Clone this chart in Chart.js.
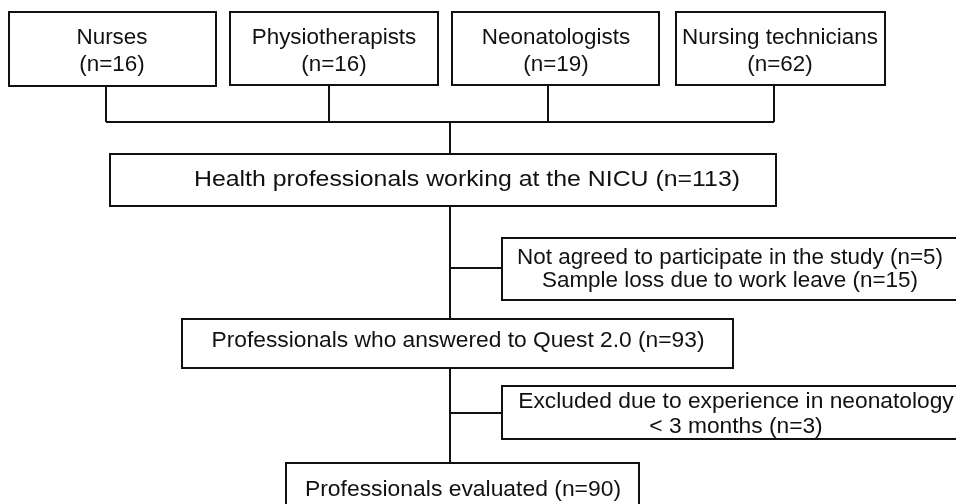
<!DOCTYPE html>
<html>
<head>
<meta charset="utf-8">
<script src="https://cdn.jsdelivr.net/npm/chart.js@4/dist/chart.umd.min.js"></script>
<style>
body{margin:0;background:#fff;}
#flowChart{display:block;}
</style>
</head>
<body>
<canvas id="flowChart" width="956" height="504"></canvas>
<script>
//box texts
var boxTexts=[
    ["Nurses","(n=16)"],
    ["Physiotherapists","(n=16)"],
    ["Neonatologists","(n=19)"],
    ["Nursing technicians","(n=62)"],
    ["Health professionals working at the NICU (n=113)"],
    ["Not agreed to participate in the study (n=5)","Sample loss due to work leave (n=15)"],
    ["Professionals who answered to Quest 2.0 (n=93)"],
    ["Excluded due to experience in neonatology","< 3 months (n=3)"],
    ["Professionals evaluated (n=90)"]
];
//counts shown in boxes
var groupNames=["Nurses","Physiotherapists","Neonatologists","Nursing technicians"];
var groupCounts=[16,16,19,62];
var totalCount=113;
var lostCounts=[5,15];
var answeredCount=93;
var excludedCount=3;
var evaluatedCount=90;

//box extents in chart units: left, top, right, bottom
var boxLeft  =[9,  230,452,676,110,502,182,502,286];
var boxTop   =[12, 12, 12, 12, 154,238,319,386,463];
var boxRight =[216,438,659,885,776,962,733,962,639];
var boxBottom=[86, 85, 85, 85, 206,300,368,439,520];
//text placement
var textX    =[112,334,556,780,467,730,458,736,463];
var textY    =[51, 51, 51, 51, 180,269,341,414,490];
var lineGap  =[27, 27, 27, 27, 0,  23, 0,  25, 0];
var stretch  =[1.02,1.02,1.02,1.02,1.13,1.02,1.035,1.035,1.04];

//connector lines
var connectors=[
    [[106,86],[106,122]],
    [[329,85],[329,122]],
    [[548,85],[548,122]],
    [[774,85],[774,122]],
    [[106,122],[774,122]],
    [[450,122],[450,154]],
    [[450,206],[450,319]],
    [[450,268],[502,268]],
    [[450,368],[450,463]],
    [[450,413],[502,413]]
];

var datasets=[];
for(var i=0;i<connectors.length;i++){
    datasets.push({
        data:connectors[i].map(function(p){return {x:p[0],y:p[1]};}),
        showLine:true,
        borderColor:"#111",
        borderWidth:2,
        pointRadius:0,
        fill:false
    });
}

var boxPlugin={
    id:"boxes",
    afterDatasetsDraw:function(chart){
        var ctx=chart.ctx;
        var xs=chart.scales.x,ys=chart.scales.y;
        ctx.save();
        for(var i=0;i<boxTexts.length;i++){
            var l=xs.getPixelForValue(boxLeft[i]);
            var r=xs.getPixelForValue(boxRight[i]);
            var t=ys.getPixelForValue(boxTop[i]);
            var b=ys.getPixelForValue(boxBottom[i]);
            ctx.fillStyle="#fff";
            ctx.fillRect(l,t,r-l,b-t);
            ctx.strokeStyle="#111";
            ctx.lineWidth=2;
            ctx.strokeRect(l,t,r-l,b-t);

            //text, slightly widened like the original
            ctx.fillStyle="#111";
            ctx.font="22px 'Liberation Sans', Arial, sans-serif";
            ctx.textAlign="center";
            ctx.textBaseline="middle";
            var lines=boxTexts[i];
            var cx=xs.getPixelForValue(textX[i]);
            var cy=ys.getPixelForValue(textY[i]);
            for(var j=0;j<lines.length;j++){
                var off=(j-(lines.length-1)/2)*lineGap[i];
                ctx.save();
                ctx.translate(cx,cy+off);
                ctx.scale(stretch[i],1);
                ctx.fillText(lines[j],0,0);
                ctx.restore();
            }
        }
        ctx.restore();
    }
};

var flowChart=new Chart(document.getElementById("flowChart"),{
    type:"scatter",
    data:{datasets:datasets},
    options:{
        responsive:false,
        animation:false,
        layout:{padding:0},
        plugins:{legend:{display:false},tooltip:{enabled:false}},
        scales:{
            x:{type:"linear",min:0,max:956,display:false},
            y:{type:"linear",min:0,max:504,reverse:true,display:false}
        }
    },
    plugins:[boxPlugin]
});
</script>
</body>
</html>
